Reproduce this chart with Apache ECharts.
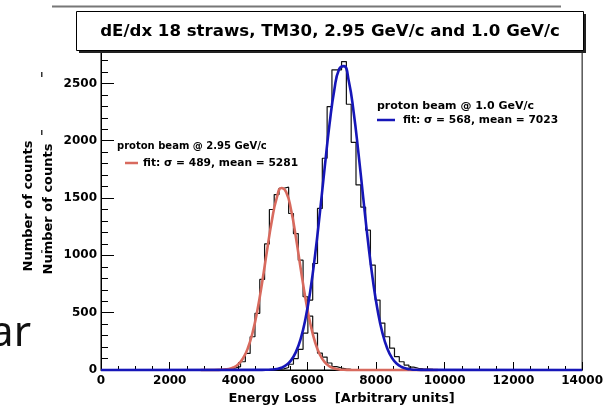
<!DOCTYPE html>
<html><head><meta charset="utf-8">
<script src="https://cdn.jsdelivr.net/npm/echarts@6/dist/echarts.min.js"></script>
<style>html,body{margin:0;padding:0;background:#fff;}#c{width:606px;height:410px;}</style>
</head><body><div id="c"></div>
<script>
// ---- data ----
const binWidth = 140;                 // histogram bin width (energy units)
const xMin = 0, xMax = 14000, xStep = 2000;
const yMin = 0, yMax = 2800, yStep = 500, yMinorStep = 100;

// proton beam @ 2.95 GeV/c histogram, bins starting at bin index 25 (3500)
const redFirstBin = 25;
const redCounts = [5, 10, 18, 29, 72, 145, 290, 494, 790, 1100, 1400, 1530, 1585, 1595, 1365,
                   1190, 958, 639, 470, 322, 148, 113, 61, 30, 17, 10, 5, 3, 2];
// proton beam @ 1.0 GeV/c histogram, bins starting at bin index 36 (5040)
const blueFirstBin = 36;
const blueCounts = [5, 10, 22, 50, 100, 180, 322, 610, 929, 1409, 1847, 2298, 2618, 2618, 2690,
                    2318, 1986, 1614, 1420, 1220, 915, 610, 409, 290, 190, 116, 72, 43, 25, 15,
                    10, 8, 5, 4, 3, 2];

const fitStep = 140;
const redFitFirst = 3150;
const redFit = [0, 0, 1, 4, 9, 22, 49, 100, 188, 325, 520, 766, 1039, 1299, 1496, 1587, 1551,
                1397, 1159, 886, 624, 405, 242, 133, 68, 32, 14, 5, 2, 1, 0];
const redFitRange = [2900, 9800];
const blueFitFirst = 4690;
const blueFit = [1, 2, 4, 9, 20, 43, 84, 156, 272, 447, 690, 1004, 1373, 1769, 2144, 2445, 2625,
                 2651, 2520, 2253, 1897, 1503, 1120, 786, 519, 322, 188, 104, 54, 26, 12, 5, 2, 1];
const blueFitRange = [0, 14000];

const titleText = 'dE/dx 18 straws, TM30, 2.95 GeV/c and 1.0 GeV/c';
const xName = 'Energy Loss    [Arbitrary units]';
const yName = 'Number of counts';
const redLegend = ['proton beam @ 2.95 GeV/c', 'fit: \u03c3 = 489, mean = 5281'];
const blueLegend = ['proton beam @ 1.0 GeV/c', 'fit: \u03c3 = 568, mean = 7023'];

// ---- build ----
function histPoints(first, counts) {
  const pts = [[xMin, 0]];
  counts.forEach((c, i) => pts.push([(first + i) * binWidth, c]));
  pts.push([(first + counts.length) * binWidth, 0]);
  pts.push([xMax, 0]);
  return pts;
}
function fitPoints(first, vals, range) {
  const pts = [[range[0], 0]];
  vals.forEach((v, i) => pts.push([first + i * fitStep, v]));
  pts.push([range[1], 0]);
  return pts;
}
const FONT = 'DejaVu Sans';
const RED = '#d86a5e', BLUE = '#1616b8';

const chart = echarts.init(document.getElementById('c'), null, {renderer: 'canvas'});
const labelStyle = {color: '#000', fontFamily: FONT, fontWeight: 'bold', fontSize: 12, formatter: v => String(v)};
chart.setOption({
  animation: false,
  backgroundColor: '#fff',
  grid: {left: 101, right: 23, top: 49, bottom: 40, show: true, borderColor: '#000', borderWidth: 1, backgroundColor: 'transparent'},
  xAxis: {
    type: 'value', min: xMin, max: xMax, interval: xStep,
    axisLine: {show: true, lineStyle: {color: '#000', width: 1}},
    axisTick: {show: true, inside: true, length: 8, lineStyle: {color: '#000'}},
    minorTick: {show: true, splitNumber: 4, length: 4, lineStyle: {color: '#000'}},
    axisLabel: Object.assign({margin: 5}, labelStyle),
    splitLine: {show: false}, minorSplitLine: {show: false},
    name: xName, nameLocation: 'middle', nameGap: 21,
    nameTextStyle: {color: '#000', fontFamily: FONT, fontWeight: 'bold', fontSize: 13}
  },
  yAxis: [{
    type: 'value', min: yMin, max: yMax, interval: yStep, position: 'left',
    axisLine: {show: true, lineStyle: {color: '#000', width: 1}},
    axisTick: {show: true, inside: true, length: 13, lineStyle: {color: '#000'}},
    axisLabel: Object.assign({margin: 4, showMaxLabel: false}, labelStyle),
    splitLine: {show: false}
  }, {
    type: 'value', min: yMin, max: yMax, interval: yMinorStep, position: 'left', offset: 0,
    axisLine: {show: false},
    axisTick: {show: true, inside: true, length: 7, lineStyle: {color: '#000'}},
    axisLabel: {show: false},
    splitLine: {show: false}
  }],
  series: [
    {type: 'line', data: histPoints(redFirstBin, redCounts), step: 'end', showSymbol: false, clip: false,
     lineStyle: {color: '#111', width: 1.2}, z: 2, silent: true},
    {type: 'line', data: histPoints(blueFirstBin, blueCounts), step: 'end', showSymbol: false, clip: false,
     lineStyle: {color: '#111', width: 1.2}, z: 2, silent: true},
    {type: 'line', data: fitPoints(redFitFirst, redFit, redFitRange), smooth: true,
     showSymbol: false, clip: false, lineStyle: {color: RED, width: 2.6}, z: 3, silent: true},
    {type: 'line', data: fitPoints(blueFitFirst, blueFit, blueFitRange), smooth: true,
     showSymbol: false, clip: false, lineStyle: {color: BLUE, width: 2.6}, z: 4, silent: true}
  ],
  graphic: [
    {type: 'line', z: 100, shape: {x1: 52, y1: 6.5, x2: 561, y2: 6.5}, style: {stroke: '#777', lineWidth: 2}},
    {type: 'rect', z: 100, shape: {x: 79, y: 14, width: 507, height: 39}, style: {fill: '#222'}},
    {type: 'rect', z: 101, shape: {x: 76.5, y: 11.5, width: 507, height: 39}, style: {fill: '#fff', stroke: '#000', lineWidth: 1}},
    {type: 'text', z: 102, x: 330, y: 32, style: {text: titleText, fill: '#000', fontFamily: FONT, fontWeight: 'bold', fontSize: 16.6, align: 'center', verticalAlign: 'middle'}},
    {type: 'text', z: 100, x: 29, y: 206, rotation: Math.PI / 2, style: {text: yName, fill: '#000', fontFamily: FONT, fontWeight: 'bold', fontSize: 13, align: 'center', verticalAlign: 'middle'}},
    {type: 'text', z: 100, x: 49, y: 209, rotation: Math.PI / 2, style: {text: yName, fill: '#000', fontFamily: FONT, fontWeight: 'bold', fontSize: 13, align: 'center', verticalAlign: 'middle'}},
    {type: 'rect', z: 100, shape: {x: 41, y: 72, width: 1.5, height: 5}, style: {fill: '#333'}},
    {type: 'rect', z: 100, shape: {x: 41, y: 130, width: 1.5, height: 5}, style: {fill: '#333'}},
    {type: 'rect', z: 100, shape: {x: 41, y: 250, width: 1.5, height: 3}, style: {fill: '#555'}},
    {type: 'text', z: 100, x: 31, y: 334, style: {text: 'ar', fill: '#111', fontFamily: 'Noto Sans', fontSize: 42, align: 'right', verticalAlign: 'middle'}},
    {type: 'text', z: 100, x: 117, y: 146, style: {text: redLegend[0], fill: '#000', fontFamily: FONT, fontWeight: 'bold', fontSize: 10, align: 'left', verticalAlign: 'middle'}},
    {type: 'line', z: 100, shape: {x1: 125, y1: 163, x2: 138, y2: 163}, style: {stroke: RED, lineWidth: 2.5}},
    {type: 'text', z: 100, x: 143, y: 163, style: {text: redLegend[1], fill: '#000', fontFamily: FONT, fontWeight: 'bold', fontSize: 10.7, align: 'left', verticalAlign: 'middle'}},
    {type: 'text', z: 100, x: 377, y: 106, style: {text: blueLegend[0], fill: '#000', fontFamily: FONT, fontWeight: 'bold', fontSize: 11, align: 'left', verticalAlign: 'middle'}},
    {type: 'line', z: 100, shape: {x1: 377, y1: 120, x2: 395, y2: 120}, style: {stroke: BLUE, lineWidth: 2.5}},
    {type: 'text', z: 100, x: 403, y: 120, style: {text: blueLegend[1], fill: '#000', fontFamily: FONT, fontWeight: 'bold', fontSize: 10.7, align: 'left', verticalAlign: 'middle'}}
  ]
});
</script></body></html>
